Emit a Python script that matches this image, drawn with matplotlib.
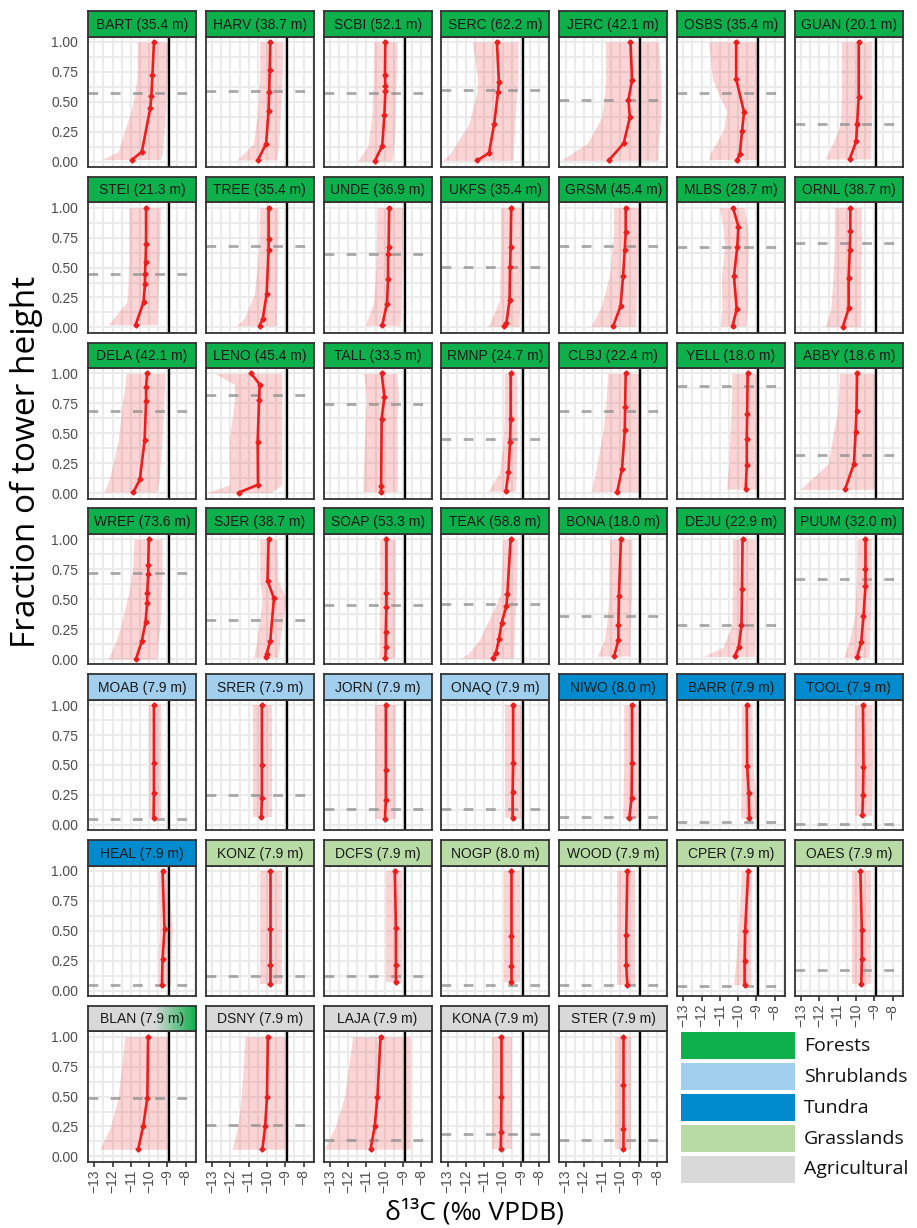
import numpy as np
import matplotlib.pyplot as plt
from matplotlib.patches import Rectangle
from matplotlib.colors import to_rgb
from matplotlib.ticker import MultipleLocator, FormatStrFormatter

plt.rcParams['font.family'] = ['Liberation Sans', 'DejaVu Sans']

sites = ["BART", "HARV", "SCBI", "SERC", "JERC", "OSBS", "GUAN",
         "STEI", "TREE", "UNDE", "UKFS", "GRSM", "MLBS", "ORNL",
         "DELA", "LENO", "TALL", "RMNP", "CLBJ", "YELL", "ABBY",
         "WREF", "SJER", "SOAP", "TEAK", "BONA", "DEJU", "PUUM",
         "MOAB", "SRER", "JORN", "ONAQ", "NIWO", "BARR", "TOOL",
         "HEAL", "KONZ", "DCFS", "NOGP", "WOOD", "CPER", "OAES",
         "BLAN", "DSNY", "LAJA", "KONA", "STER"]
tower_m = [35.4, 38.7, 52.1, 62.2, 42.1, 35.4, 20.1,
           21.3, 35.4, 36.9, 35.4, 45.4, 28.7, 38.7,
           42.1, 45.4, 33.5, 24.7, 22.4, 18.0, 18.6,
           73.6, 38.7, 53.3, 58.8, 18.0, 22.9, 32.0,
           7.9, 7.9, 7.9, 7.9, 8.0, 7.9, 7.9,
           7.9, 7.9, 7.9, 8.0, 7.9, 7.9, 7.9,
           7.9, 7.9, 7.9, 7.9, 7.9]
biome = ["F"] * 28 + ["S"] * 4 + ["T"] * 4 + ["G"] * 6 + ["A"] * 5

# sampling heights as fraction of tower height
heights = [
    [1.0, 0.727, 0.55, 0.445, 0.083, 0.017],
    [1.0, 0.765, 0.583, 0.425, 0.149, 0.014],
    [1.0, 0.727, 0.63, 0.586, 0.392, 0.133, 0.006],
    [1.0, 0.666, 0.58, 0.315, 0.072, 0.011],
    [1.0, 0.685, 0.514, 0.37, 0.152, 0.011],
    [1.0, 0.69, 0.414, 0.254, 0.064, 0.017],
    [1.0, 0.536, 0.312, 0.169, 0.022],
    [1.0, 0.697, 0.548, 0.445, 0.362, 0.21, 0.022],
    [1.0, 0.741, 0.645, 0.277, 0.072, 0.014],
    [1.0, 0.675, 0.614, 0.401, 0.199, 0.017],
    [1.0, 0.675, 0.503, 0.227, 0.036, 0.008],
    [1.0, 0.794, 0.647, 0.432, 0.177, 0.008],
    [1.0, 0.841, 0.672, 0.426, 0.152, 0.011],
    [1.0, 0.802, 0.65, 0.409, 0.158, 0.006],
    [1.0, 0.889, 0.768, 0.441, 0.115, 0.01],
    [1.0, 0.908, 0.778, 0.43, 0.071, 0.005],
    [1.0, 0.803, 0.624, 0.06, 0.013],
    [1.0, 0.624, 0.427, 0.173, 0.018],
    [1.0, 0.72, 0.524, 0.203, 0.013],
    [1.0, 0.665, 0.455, 0.234, 0.035],
    [1.0, 0.684, 0.513, 0.247, 0.032],
    [1.0, 0.785, 0.707, 0.55, 0.467, 0.307, 0.152, 0.0],
    [1.0, 0.655, 0.506, 0.149, 0.044, 0.014],
    [1.0, 0.552, 0.434, 0.229, 0.099, 0.008],
    [1.0, 0.541, 0.442, 0.304, 0.163, 0.047, 0.006],
    [1.0, 0.528, 0.282, 0.157, 0.025],
    [1.0, 0.583, 0.282, 0.099, 0.022],
    [1.0, 0.751, 0.613, 0.359, 0.146, 0.014],
    [1.0, 0.519, 0.267, 0.054],
    [1.0, 0.499, 0.22, 0.065],
    [1.0, 0.46, 0.209, 0.048],
    [1.0, 0.519, 0.27, 0.057],
    [1.0, 0.513, 0.223, 0.057],
    [1.0, 0.491, 0.264, 0.054],
    [1.0, 0.485, 0.245, 0.079],
    [1.0, 0.514, 0.26, 0.044],
    [1.0, 0.514, 0.215, 0.058],
    [1.0, 0.522, 0.213, 0.069],
    [1.0, 0.459, 0.204, 0.069],
    [1.0, 0.461, 0.213, 0.05],
    [1.0, 0.5, 0.249, 0.05],
    [1.0, 0.506, 0.262, 0.058],
    [1.0, 0.49, 0.25, 0.06],
    [1.0, 0.5, 0.25, 0.06],
    [1.0, 0.5, 0.25, 0.06],
    [1.0, 0.5, 0.2, 0.06],
    [1.0, 0.6, 0.23, 0.06],
]
d13c_mean = [
    [-9.74, -9.82, -9.88, -9.94, -10.40, -10.92],
    [-9.82, -9.85, -9.88, -9.91, -10.05, -10.49],
    [-9.97, -9.99, -9.97, -9.97, -10.02, -10.14, -10.54],
    [-10.31, -10.20, -10.25, -10.46, -10.74, -11.38],
    [-9.45, -9.36, -9.56, -9.48, -9.82, -10.63],
    [-10.11, -10.11, -9.68, -9.79, -9.91, -10.05],
    [-9.85, -9.85, -9.94, -9.99, -10.34],
    [-10.17, -10.17, -10.20, -10.23, -10.23, -10.31, -10.74],
    [-9.91, -9.91, -9.91, -10.02, -10.23, -10.40],
    [-9.76, -9.79, -9.82, -9.82, -9.88, -10.14],
    [-9.53, -9.56, -9.59, -9.62, -9.79, -9.91],
    [-9.71, -9.71, -9.76, -9.85, -9.99, -10.40],
    [-10.28, -9.99, -10.05, -10.23, -10.08, -10.31],
    [-10.31, -10.31, -10.34, -10.40, -10.40, -10.72],
    [-10.11, -10.17, -10.17, -10.25, -10.51, -10.86],
    [-10.86, -10.40, -10.43, -10.51, -10.49, -11.55],
    [-10.17, -10.02, -10.17, -10.20, -10.20],
    [-9.56, -9.56, -9.59, -9.68, -9.82],
    [-9.71, -9.74, -9.76, -9.91, -10.17],
    [-9.48, -9.51, -9.53, -9.53, -9.59],
    [-9.94, -9.97, -10.02, -10.11, -10.60],
    [-10.02, -10.05, -10.05, -10.11, -10.11, -10.20, -10.40, -10.72],
    [-9.91, -9.97, -9.62, -9.82, -10.02, -10.05],
    [-9.91, -9.91, -9.91, -9.94, -9.94, -9.97],
    [-9.56, -9.74, -9.79, -10.05, -10.20, -10.37, -10.54],
    [-9.97, -10.08, -10.11, -10.11, -10.34],
    [-9.76, -9.79, -9.82, -9.97, -10.20],
    [-9.48, -9.48, -9.48, -9.59, -9.71, -9.94],
    [-9.74, -9.74, -9.74, -9.76],
    [-10.28, -10.28, -10.28, -10.31],
    [-9.94, -9.94, -9.94, -9.99],
    [-9.42, -9.42, -9.45, -9.45],
    [-9.36, -9.36, -9.39, -9.51],
    [-9.53, -9.51, -9.42, -9.39],
    [-9.62, -9.59, -9.62, -9.65],
    [-9.27, -9.16, -9.27, -9.30],
    [-9.82, -9.82, -9.82, -9.82],
    [-9.45, -9.39, -9.39, -9.39],
    [-9.53, -9.53, -9.53, -9.53],
    [-9.62, -9.68, -9.68, -9.62],
    [-9.45, -9.62, -9.65, -9.65],
    [-9.76, -9.68, -9.68, -9.71],
    [-10.06, -10.10, -10.33, -10.60],
    [-9.95, -10.00, -10.10, -10.25],
    [-10.23, -10.40, -10.55, -10.78],
    [-10.06, -10.06, -10.08, -10.10],
    [-9.84, -9.84, -9.84, -9.84],
]
d13c_lo = [
    [-10.66, -10.66, -10.80, -10.95, -11.70, -12.60],
    [-10.40, -10.40, -10.46, -10.51, -10.74, -11.64],
    [-10.60, -10.63, -10.63, -10.66, -10.70, -10.92, -11.49],
    [-11.64, -11.35, -11.41, -11.84, -12.85, -13.25],
    [-10.80, -10.80, -10.89, -11.03, -11.81, -13.25],
    [-11.61, -11.41, -10.63, -10.83, -11.55, -11.61],
    [-10.80, -10.80, -10.86, -11.23, -11.67],
    [-11.12, -11.12, -11.12, -11.15, -11.15, -11.23, -12.24],
    [-10.40, -10.43, -10.46, -10.69, -11.26, -11.67],
    [-10.43, -10.46, -10.46, -10.52, -10.63, -11.06],
    [-10.11, -10.11, -10.14, -10.17, -10.69, -10.80],
    [-10.37, -10.37, -10.46, -10.60, -11.03, -11.61],
    [-11.03, -10.83, -10.75, -10.92, -10.89, -10.98],
    [-11.18, -11.18, -11.20, -11.26, -11.38, -11.67],
    [-11.26, -11.32, -11.46, -11.69, -12.18, -12.47],
    [-12.85, -11.78, -11.78, -12.07, -12.04, -13.26],
    [-11.15, -11.00, -11.06, -11.20, -11.21],
    [-9.91, -9.91, -9.97, -10.17, -10.77],
    [-10.69, -10.80, -10.95, -11.32, -11.58],
    [-10.34, -10.40, -10.46, -10.52, -10.63],
    [-10.89, -11.00, -11.23, -11.52, -13.05],
    [-10.83, -10.89, -10.95, -11.12, -11.26, -11.49, -11.81, -12.24],
    [-10.40, -10.40, -10.26, -10.55, -10.69, -10.75],
    [-10.28, -10.28, -10.28, -10.30, -10.30, -10.34],
    [-9.97, -10.11, -10.40, -10.83, -11.26, -11.87, -12.25],
    [-10.60, -10.63, -10.75, -10.89, -11.26],
    [-10.31, -10.31, -10.34, -10.83, -11.90],
    [-9.94, -9.97, -9.99, -10.08, -10.37, -10.66],
    [-10.02, -10.02, -10.02, -10.02],
    [-10.74, -10.74, -10.74, -10.74],
    [-10.54, -10.54, -10.54, -10.54],
    [-9.85, -9.85, -9.85, -9.85],
    [-9.82, -9.82, -9.85, -9.88],
    [-9.82, -9.82, -9.85, -9.87],
    [-10.08, -10.10, -10.10, -10.08],
    [-9.51, -9.45, -9.51, -9.51],
    [-10.40, -10.40, -10.40, -10.40],
    [-9.91, -9.91, -9.91, -9.91],
    [-9.91, -9.91, -9.91, -9.91],
    [-10.17, -10.17, -10.17, -10.17],
    [-9.82, -10.00, -10.12, -10.25],
    [-10.20, -10.20, -10.20, -10.20],
    [-11.33, -11.70, -12.10, -12.70],
    [-11.20, -11.40, -11.60, -11.90],
    [-11.76, -12.20, -12.70, -13.30],
    [-10.60, -10.60, -10.60, -10.60],
    [-10.28, -10.28, -10.28, -10.28],
]
d13c_hi = [
    [-8.99, -9.02, -9.07, -9.10, -9.27, -9.39],
    [-9.13, -9.16, -9.22, -9.25, -9.36, -9.48],
    [-9.33, -9.36, -9.39, -9.39, -9.42, -9.50, -9.62],
    [-9.16, -9.16, -9.22, -9.33, -9.42, -9.45],
    [-7.92, -7.78, -7.78, -7.78, -7.92, -7.95],
    [-8.90, -8.90, -8.90, -8.90, -8.93, -8.96],
    [-9.16, -9.16, -9.16, -9.19, -9.19],
    [-9.39, -9.42, -9.45, -9.48, -9.50, -9.53, -9.59],
    [-9.39, -9.39, -9.42, -9.45, -9.48, -9.48],
    [-9.02, -9.04, -9.04, -9.08, -9.10, -9.16],
    [-8.99, -8.99, -9.02, -9.04, -9.10, -9.10],
    [-8.99, -8.99, -9.02, -9.07, -9.13, -9.16],
    [-9.68, -9.48, -9.45, -9.48, -9.48, -9.59],
    [-9.71, -9.71, -9.71, -9.74, -9.74, -9.76],
    [-9.16, -9.16, -9.20, -9.30, -9.45, -9.59],
    [-9.19, -9.19, -9.19, -9.19, -9.19, -9.80],
    [-9.33, -9.25, -9.33, -9.30, -9.30],
    [-9.22, -9.22, -9.22, -9.25, -9.28],
    [-8.87, -8.87, -8.87, -8.87, -8.87],
    [-8.90, -8.90, -8.90, -8.93, -8.96],
    [-8.90, -8.90, -8.90, -8.93, -8.93],
    [-9.30, -9.30, -9.30, -9.33, -9.36, -9.39, -9.50, -9.59],
    [-9.45, -9.39, -8.96, -9.30, -9.36, -9.39],
    [-9.42, -9.42, -9.42, -9.45, -9.45, -9.45],
    [-9.19, -9.25, -9.28, -9.33, -9.36, -9.39, -9.39],
    [-9.36, -9.39, -9.45, -9.48, -9.50],
    [-9.10, -9.10, -9.10, -9.10, -9.13],
    [-9.16, -9.16, -9.16, -9.20, -9.25, -9.28],
    [-9.36, -9.36, -9.36, -9.36],
    [-9.71, -9.71, -9.71, -9.71],
    [-9.39, -9.39, -9.39, -9.39],
    [-8.99, -8.99, -8.99, -8.99],
    [-8.93, -8.93, -8.96, -9.05],
    [-9.25, -9.20, -9.05, -8.90],
    [-9.13, -9.10, -9.13, -9.16],
    [-9.01, -8.73, -8.82, -8.82],
    [-9.19, -9.19, -9.19, -9.19],
    [-9.04, -9.04, -9.04, -9.04],
    [-9.04, -9.04, -9.04, -9.04],
    [-9.22, -9.22, -9.22, -9.22],
    [-9.25, -9.30, -9.32, -9.30],
    [-9.19, -9.19, -9.19, -9.19],
    [-8.96, -8.96, -8.96, -8.96],
    [-8.86, -8.86, -8.86, -8.86],
    [-8.60, -8.60, -8.60, -8.60],
    [-9.50, -9.50, -9.50, -9.50],
    [-9.40, -9.40, -9.40, -9.40],
]
# canopy height as fraction of tower height
canopy = [0.575, 0.586, 0.575, 0.597, 0.514, 0.575, 0.315,
          0.448, 0.683, 0.614, 0.503, 0.681, 0.672, 0.708,
          0.688, 0.823, 0.746, 0.455, 0.688, 0.892, 0.322,
          0.721, 0.323, 0.453, 0.456, 0.359, 0.282, 0.669,
          0.048, 0.247, 0.131, 0.131, 0.068, 0.02, 0.007,
          0.047, 0.124, 0.124, 0.047, 0.047, 0.039, 0.169,
          0.49, 0.26, 0.14, 0.19, 0.14]
atm_d13c = -8.9

biome_codes = ["F", "S", "T", "G", "A"]
biome_names = ["Forests", "Shrublands", "Tundra", "Grasslands", "Agricultural"]
biome_colors = ["#0DB04B", "#A3CFEF", "#008BCE", "#B8DBA6", "#D9D9D9"]

W, H = 917, 1228
fig = plt.figure(figsize=(W / 100, H / 100), dpi=100)


def box(x, y, w, h):
    return [x / W, 1 - (y + h) / H, w / W, h / H]


ncol = 7
col_x0, col_dx, pan_w = 88, 117.8, 108
row_y0, row_dy, strip_h, pan_h = 11, 165.8, 25.5, 130.5
frame = "#333333"
n = len(sites)

for i, site in enumerate(sites):
    r, c = divmod(i, ncol)
    x0 = col_x0 + c * col_dx
    y0 = row_y0 + r * row_dy

    ax = fig.add_axes(box(x0, y0 + strip_h, pan_w, pan_h))
    ax.set_xlim(-13.345, -7.44)
    ax.set_ylim(-0.045, 1.045)
    ax.xaxis.set_major_locator(MultipleLocator(1))
    ax.xaxis.set_minor_locator(MultipleLocator(0.5))
    ax.yaxis.set_major_locator(MultipleLocator(0.25))
    ax.yaxis.set_minor_locator(MultipleLocator(0.125))
    ax.yaxis.set_major_formatter(FormatStrFormatter("%.2f"))
    ax.grid(which="both", color="#EBEBEB", lw=1.5)
    ax.set_axisbelow(True)

    ax.fill_betweenx(heights[i], d13c_lo[i], d13c_hi[i], color="#EE3030", alpha=0.2, lw=0)
    ax.axhline(canopy[i], color="#8C8C8C", lw=2.0, alpha=0.75, dashes=(3.5, 4.5))
    ax.axvline(atm_d13c, color="black", lw=1.7)
    ax.plot(d13c_mean[i], heights[i], color="#EE1C1C", lw=1.9, marker="D", ms=2.6)

    for s in ax.spines.values():
        s.set_color(frame)
        s.set_linewidth(1.3)
    ax.tick_params(which="both", length=0, labelbottom=False, labelleft=False)
    if c == 0:
        ax.tick_params(axis="y", which="major", labelleft=True, labelsize=10,
                       labelcolor="#4D4D4D", pad=7)
    if i + ncol >= n:
        ax.tick_params(axis="x", which="major", length=3.5, width=1.2, color=frame,
                       labelbottom=True, labelrotation=90, labelsize=10,
                       labelcolor="#4D4D4D", pad=2)

    sax = fig.add_axes(box(x0, y0, pan_w, strip_h))
    sax.set_facecolor(biome_colors[biome_codes.index(biome[i])])
    sax.set_xlim(0, 1)
    sax.set_ylim(0, 1)
    if site == "BLAN":
        # strip fades from grey into green at its right end
        g0 = np.array(to_rgb(biome_colors[4]))
        g1 = np.array(to_rgb(biome_colors[0]))
        t = np.clip((np.linspace(0, 1, 200) - 0.62) / 0.38, 0, 1)[None, :, None]
        sax.imshow(g0 + (g1 - g0) * t, extent=(0, 1, 0, 1), aspect="auto")
    sax.set_xticks([])
    sax.set_yticks([])
    for s in sax.spines.values():
        s.set_color(frame)
        s.set_linewidth(1.3)
    sax.text(0.5, 0.47, f"{site} ({tower_m[i]:.1f} m)", ha="center", va="center",
             fontsize=10, color="#1A1A1A", transform=sax.transAxes)

# biome legend
for k, (name, col) in enumerate(zip(biome_names, biome_colors)):
    ly = 1032.3 + k * 30.8
    fig.add_artist(Rectangle((681 / W, 1 - (ly + 27) / H), 114 / W, 27 / H,
                             transform=fig.transFigure, facecolor=col, edgecolor="none"))
    fig.text(804 / W, 1 - (ly + 14) / H, name, ha="left", va="center",
             fontsize=14, family="Open Sans", color="#111111")

fig.text(26 / W, 1 - 462 / H, "Fraction of tower height", rotation=90,
         ha="center", va="center", fontsize=24, family="Open Sans")
fig.text(474 / W, 1 - 1212 / H, "δ¹³C (‰ VPDB)", ha="center", va="center",
         fontsize=19, family="Open Sans")

fig.savefig("out.png", dpi=100)
